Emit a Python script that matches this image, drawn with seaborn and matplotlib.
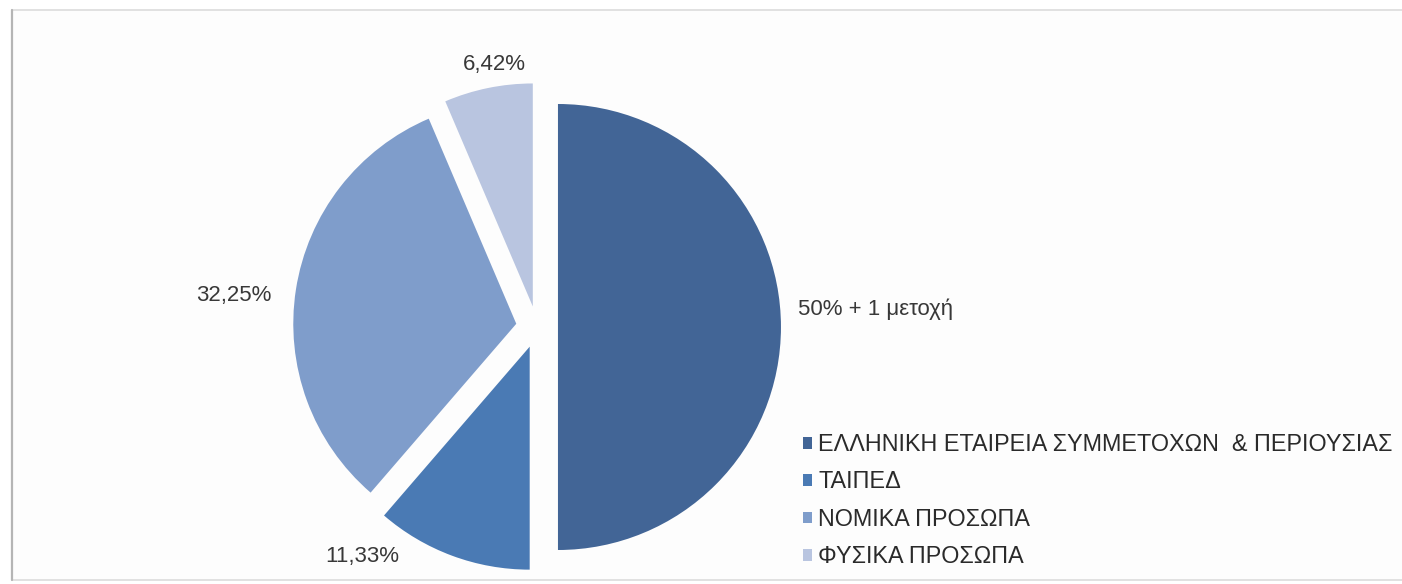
import numpy as np
import pandas as pd
import matplotlib
matplotlib.use("Agg")
import matplotlib.pyplot as plt
import seaborn as sns
from matplotlib.patches import Patch, Rectangle
from matplotlib.lines import Line2D

# data
categories = [
    "ΕΛΛΗΝΙΚΗ ΕΤΑΙΡΕΙΑ ΣΥΜΜΕΤΟΧΩΝ  & ΠΕΡΙΟΥΣΙΑΣ",
    "ΤΑΙΠΕΔ",
    "ΝΟΜΙΚΑ ΠΡΟΣΩΠΑ",
    "ΦΥΣΙΚΑ ΠΡΟΣΩΠΑ",
]
shares = [50.00, 11.33, 32.25, 6.42]
slice_labels = ["50% + 1 μετοχή", "11,33%", "32,25%", "6,42%"]
colors = ["#426596", "#4a7ab4", "#7f9dcb", "#b9c5e0"]

# where each slice label sits (pie radius = 1), Excel-style placement
label_pos = [(1.17, 0.08), (-0.785, -1.031), (-1.36, 0.143), (-0.193, 1.175)]
label_ha = ["left", "center", "center", "center"]

sns.set_theme(style="white")
plt.rcParams["font.family"] = ["Liberation Sans", "DejaVu Sans"]

W, H, DPI = 1402, 584, 100
fig = plt.figure(figsize=(W / DPI, H / DPI), dpi=DPI)
fig.patch.set_facecolor("white")

# screenshot frame around the chart
frame = Rectangle((12 / W, 4 / H), (W + 20 - 12) / W, (574 - 4) / H,
                  transform=fig.transFigure, facecolor="#fdfdfd",
                  edgecolor="#dcdcdc", linewidth=1.2, zorder=0)
fig.add_artist(frame)
fig.add_artist(Line2D([12 / W, 12 / W], [4 / H, 574 / H], transform=fig.transFigure,
                      color="#b5b5b5", linewidth=1.6, zorder=1))

# axes sized so that 1 data unit = R_PX pixels, pie centred at (CX, CY)
R_PX, CX, CY = 223, 537, 327
half_w, half_h = 2.4, 1.35
ax = fig.add_axes([(CX - half_w * R_PX) / W, (H - CY - half_h * R_PX) / H,
                   2 * half_w * R_PX / W, 2 * half_h * R_PX / H])
ax.set_facecolor("none")

df = pd.DataFrame({"category": categories, "share": shares, "label": slice_labels})

wedges, texts = ax.pie(df["share"], labels=df["label"], colors=colors,
                       startangle=90, counterclock=False,
                       explode=[0.094] * len(df),
                       wedgeprops=dict(linewidth=0),
                       textprops=dict(fontsize=16, color="#383838"))
for t, (x, y), ha in zip(texts, label_pos, label_ha):
    t.set_position((x, y))
    t.set_ha(ha)
    t.set_va("center")

ax.set_xlim(-half_w, half_w)
ax.set_ylim(-half_h, half_h)
ax.set_aspect("auto")
ax.axis("off")

handles = [Patch(facecolor=c, edgecolor="none") for c in colors]
fig.legend(handles, categories, loc="upper left",
           bbox_to_anchor=(803 / W, (H - 433) / H),
           frameon=False, fontsize=16.8, handlelength=0.4, handleheight=0.4,
           handletextpad=0.25, labelspacing=0.62, borderpad=0, borderaxespad=0,
           labelcolor="#2a2a2a")

plt.savefig("out.png", dpi=DPI)
plt.close()
